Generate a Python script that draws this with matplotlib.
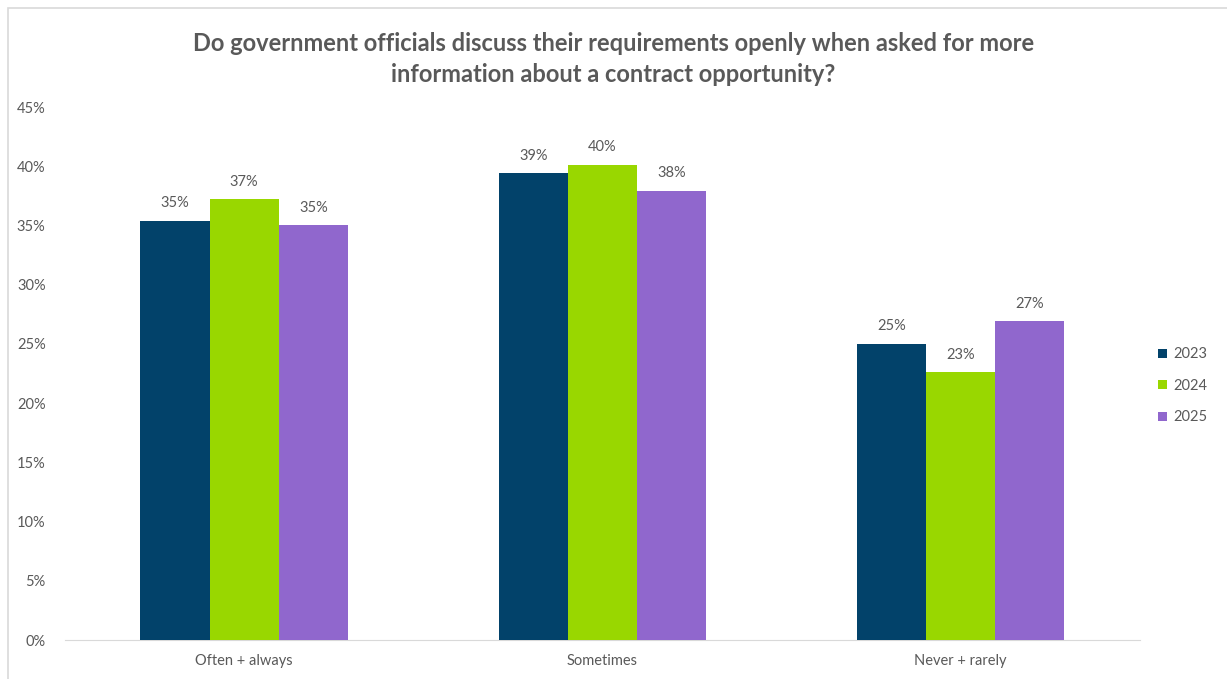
import matplotlib.pyplot as plt
import matplotlib.patches as patches
import numpy as np

categories = ["Often + always", "Sometimes", "Never + rarely"]
years = ["2023", "2024", "2025"]
values_2023 = [35.4, 39.4, 25.0]
values_2024 = [37.2, 40.1, 22.6]
values_2025 = [35.0, 37.9, 26.9]
y_ticks = [0, 5, 10, 15, 20, 25, 30, 35, 40, 45]

colors = ["#02426A", "#99D700", "#9067CD"]
text_gray = "#595959"

plt.rcParams['font.family'] = ['Lato', 'DejaVu Sans']

fig = plt.figure(figsize=(12.27, 6.79), dpi=100)
ax = fig.add_axes([0.053, 0.0574, 0.876, 0.785])

# chart frame
fig.patches.append(patches.Rectangle(
    (8 / 1227, -0.1), 1.2, 1.1 - 8 / 679, transform=fig.transFigure,
    fill=False, edgecolor="#D9D9D9", linewidth=1.2))

x = np.arange(len(categories))
width = 0.193
series = [values_2023, values_2024, values_2025]
for i, (year, vals) in enumerate(zip(years, series)):
    bars = ax.bar(x + (i - 1) * width, vals, width, color=colors[i],
                  label=year, zorder=3)
    for b, v in zip(bars, vals):
        ax.text(b.get_x() + b.get_width() / 2, v + 0.9, f"{round(v)}%",
                ha="center", va="bottom", fontsize=10.5, color=text_gray)

ax.set_xlim(-0.5, 2.5)
ax.set_ylim(0, 45)
ax.set_yticks(y_ticks)
ax.set_yticklabels([f"{t}%" for t in y_ticks])
ax.set_xticks(x)
ax.set_xticklabels(categories)
ax.tick_params(axis="both", length=0, labelsize=10.5, colors=text_gray)
ax.tick_params(axis="y", pad=14)
ax.tick_params(axis="x", pad=10)
for side in ["top", "right", "left"]:
    ax.spines[side].set_visible(False)
ax.spines["bottom"].set_color("#D9D9D9")

fig.text(0.5, 0.913, "Do government officials discuss their requirements openly when asked for more\ninformation about a contract opportunity?",
         ha="center", va="center", fontsize=17, fontweight="bold",
         color=text_gray, linespacing=1.42)

ax.legend(loc="center left", bbox_to_anchor=(1.005, 0.477), frameon=False,
          handlelength=0.6, handleheight=0.6, handletextpad=0.4,
          labelspacing=1.2, fontsize=10.5, labelcolor=text_gray)

fig.savefig("out.png", dpi=100)
